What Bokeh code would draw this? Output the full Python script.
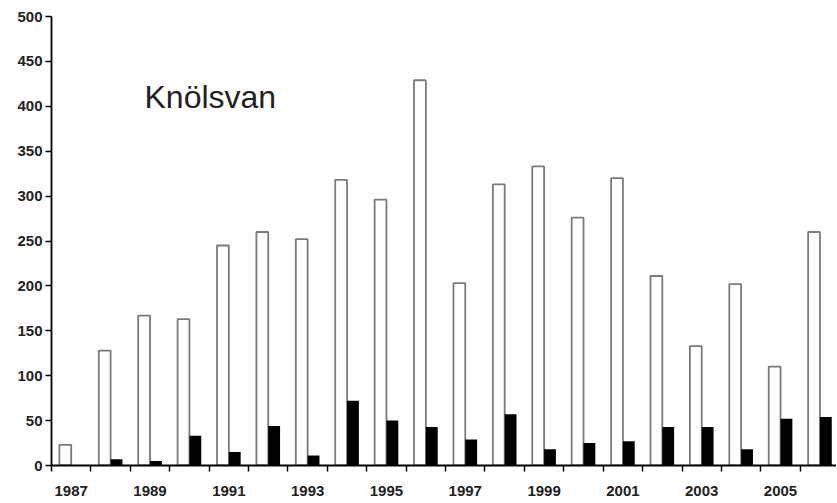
from bokeh.plotting import figure
from bokeh.models import FixedTicker, Range1d, Label
from bokeh.transform import dodge
from bokeh.embed import file_html
from bokeh.resources import INLINE
from bokeh.models import ColumnDataSource

years = [1987, 1988, 1989, 1990, 1991, 1992, 1993, 1994, 1995, 1996,
         1997, 1998, 1999, 2000, 2001, 2002, 2003, 2004, 2005, 2006]
white_values = [23, 128, 167, 163, 245, 260, 252, 318, 296, 429,
                203, 313, 333, 276, 320, 211, 133, 202, 110, 260]
black_values = [0, 7, 5, 33, 15, 44, 11, 72, 50, 43,
                29, 57, 18, 25, 27, 43, 43, 18, 52, 54]
y_ticks = [0, 50, 100, 150, 200, 250, 300, 350, 400, 450, 500]
title_text = "Knölsvan"

src = ColumnDataSource(dict(year=years, white=white_values, black=black_values))

p = figure(width=836, height=501, output_backend="svg", toolbar_location=None,
           x_range=Range1d(years[0] - 0.5, years[-1] + 0.42),
           y_range=Range1d(0, 500),
           min_border_left=51, min_border_right=0, min_border_top=16, min_border_bottom=36)
p.outline_line_color = None
p.xgrid.visible = False
p.ygrid.visible = False
p.background_fill_color = "white"

p.vbar(x=dodge("year", -0.15, range=p.x_range), top="white", width=0.3, source=src,
       fill_color="white", line_color="#7a7a7a", line_width=1.8)
p.vbar(x=dodge("year", 0.15, range=p.x_range), top="black", width=0.3, source=src,
       fill_color="black", line_color=None)

xa = p.xaxis[0]
xa.ticker = FixedTicker(ticks=years[::2],
                        minor_ticks=[y - 0.5 for y in years] + [years[-1] + 0.5])
xa.major_tick_out = 0
xa.major_tick_in = 0
xa.minor_tick_out = 6
xa.minor_tick_in = 0
xa.minor_tick_line_color = "black"
xa.minor_tick_line_width = 1.5
xa.axis_line_width = 1.8
xa.axis_line_color = "black"
xa.major_label_text_font = "Liberation Sans"
xa.major_label_text_font_style = "bold"
xa.major_label_text_font_size = "15px"
xa.major_label_text_color = "#222222"
xa.major_label_standoff = 14

ya = p.yaxis[0]
ya.ticker = FixedTicker(ticks=y_ticks, minor_ticks=[])
ya.major_tick_out = 6
ya.major_tick_in = 0
ya.major_tick_line_width = 1.5
ya.axis_line_width = 1.8
ya.axis_line_color = "black"
ya.major_label_text_font = "Liberation Sans"
ya.major_label_text_font_style = "bold"
ya.major_label_text_font_size = "15px"
ya.major_label_text_color = "#222222"
ya.major_label_standoff = 3

p.add_layout(Label(x=1988.86, y=410, text=title_text, text_font="Liberation Sans",
                   text_font_size="32px", text_color="#222222",
                   text_baseline="alphabetic", text_align="left"))

open("out.html", "w").write(file_html(p, INLINE))
